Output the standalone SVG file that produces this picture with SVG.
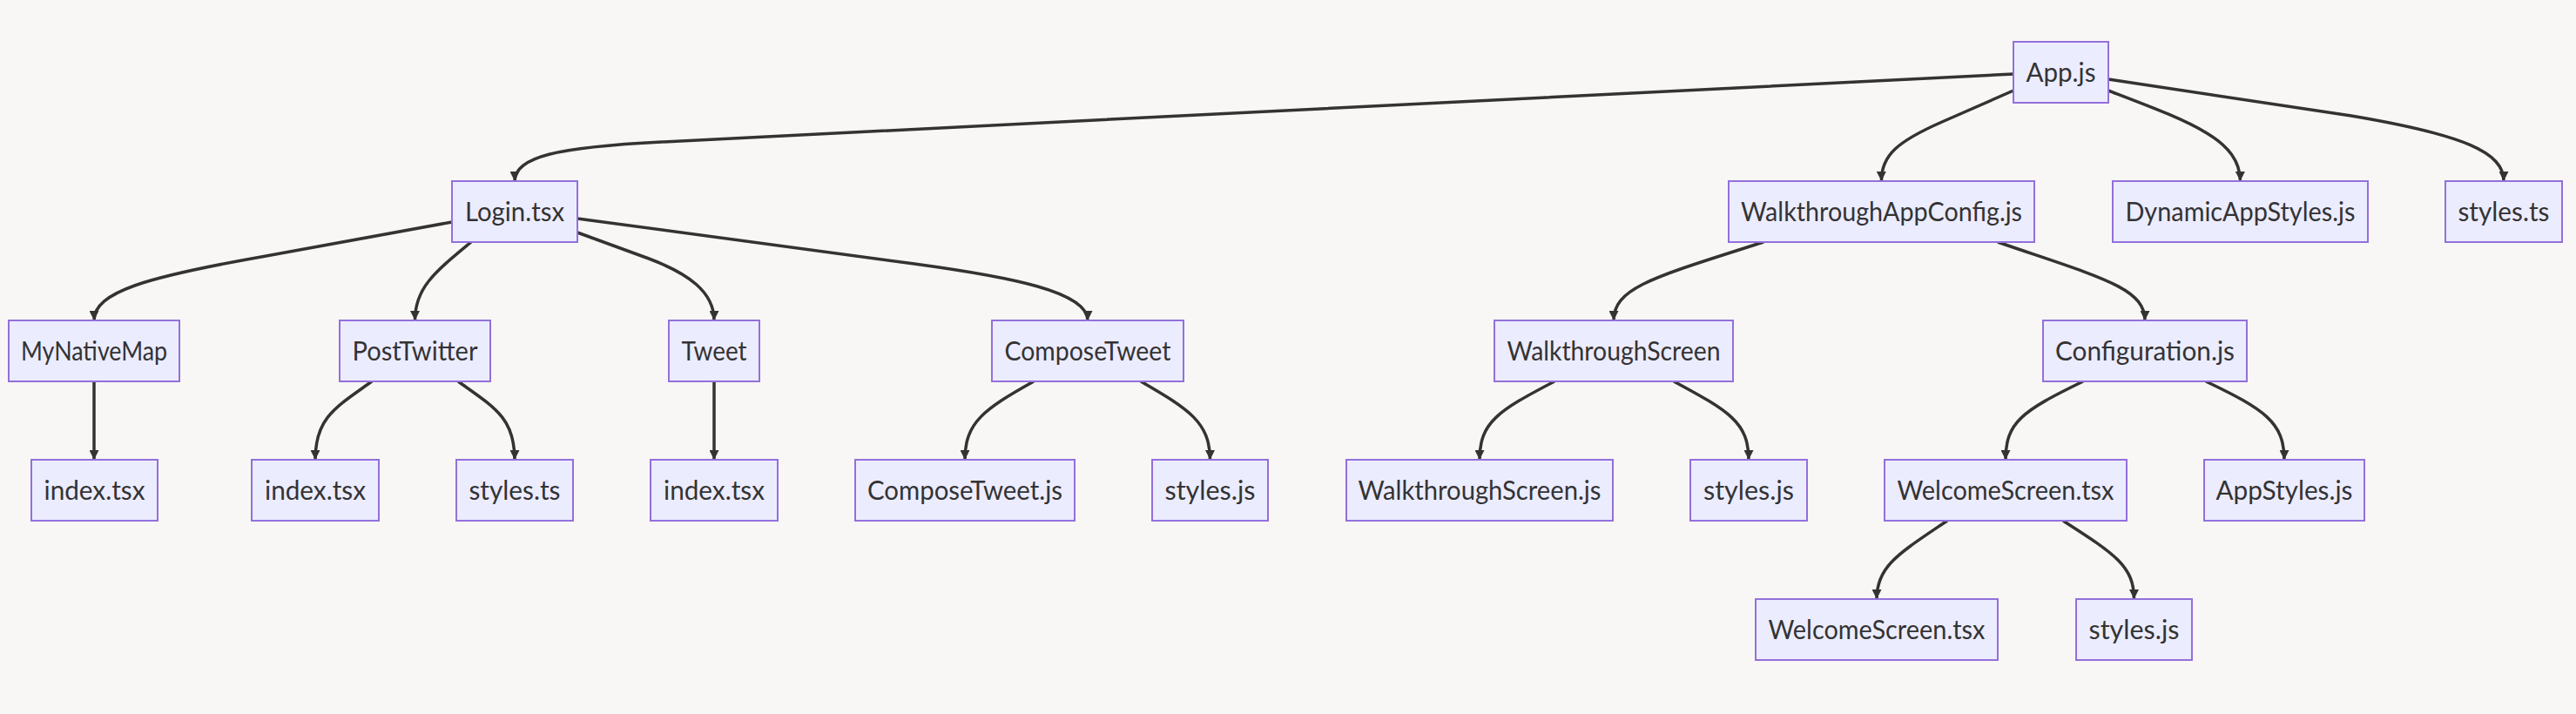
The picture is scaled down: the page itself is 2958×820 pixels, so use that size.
<svg xmlns="http://www.w3.org/2000/svg" width="2958" height="820" viewBox="0 0 2958 820">
<style>
.bg{fill:#f8f7f5}
.node rect{fill:#ECECFF;stroke:#9370DB;stroke-width:2}
.node text{font-family:Lato,"Liberation Sans",sans-serif;font-size:31px;fill:#333333;text-anchor:middle}
.edge{fill:none;stroke:#333333;stroke-width:3.5;stroke-linecap:butt}
</style>
<defs>
<marker id="arrow" viewBox="0 0 10 10" refX="10" refY="5" markerUnits="userSpaceOnUse" markerWidth="11" markerHeight="11" orient="auto">
<path d="M0,0 L10,5 L0,10 z" fill="#333333"/>
</marker>
</defs>
<rect class="bg" x="0" y="0" width="2958" height="820"/>
<g id="connectors">
<path class="edge" marker-end="url(#arrow)" d="M2312,85 L760,163 C640,169 591,180 591,208"/>
<path class="edge" marker-end="url(#arrow)" d="M2312,104 L2230,140 C2180,162 2160,178 2160.5,208"/>
<path class="edge" marker-end="url(#arrow)" d="M2421,104 C2515,140 2572,160 2572.5,208"/>
<path class="edge" marker-end="url(#arrow)" d="M2421,91 L2700,133 C2830,155 2875,175 2875,208"/>
<path class="edge" marker-end="url(#arrow)" d="M519,255 L300,295 C170,318 108,335 108,368"/>
<path class="edge" marker-end="url(#arrow)" d="M541,278 C500,312 476.5,330 476.5,368"/>
<path class="edge" marker-end="url(#arrow)" d="M663,267 L745,297 C790,314 820,335 820,368"/>
<path class="edge" marker-end="url(#arrow)" d="M663,251 L1050,303 C1160,318 1249,335 1249,368"/>
<path class="edge" marker-end="url(#arrow)" d="M108,438 L108,528"/>
<path class="edge" marker-end="url(#arrow)" d="M427,438 C385,468 362,480 362,528"/>
<path class="edge" marker-end="url(#arrow)" d="M526,438 C568,468 591,480 591,528"/>
<path class="edge" marker-end="url(#arrow)" d="M820,438 L820,528"/>
<path class="edge" marker-end="url(#arrow)" d="M1187,438 C1130,470 1108,485 1108,528"/>
<path class="edge" marker-end="url(#arrow)" d="M1310,438 C1365,470 1389.5,485 1389.5,528"/>
<path class="edge" marker-end="url(#arrow)" d="M2025,278 C1900,318 1853,330 1853,368"/>
<path class="edge" marker-end="url(#arrow)" d="M2294,278 C2410,318 2463,330 2463,368"/>
<path class="edge" marker-end="url(#arrow)" d="M1785,438 C1720,472 1699,485 1699,528"/>
<path class="edge" marker-end="url(#arrow)" d="M1922,438 C1985,472 2008,485 2008,528"/>
<path class="edge" marker-end="url(#arrow)" d="M2392,438 C2322,472 2303,485 2303,528"/>
<path class="edge" marker-end="url(#arrow)" d="M2533,438 C2600,470 2623,485 2623,528"/>
<path class="edge" marker-end="url(#arrow)" d="M2236,598 C2180,636 2155,650 2155,688"/>
<path class="edge" marker-end="url(#arrow)" d="M2369,598 C2428,636 2450.5,650 2450.5,688"/>
</g>
<g id="n-app" class="node"><rect x="2312" y="48" width="109" height="70"/><text x="2366.5" y="94" textLength="80" lengthAdjust="spacingAndGlyphs">App.js</text></g>
<g id="n-login" class="node"><rect x="519" y="208" width="144" height="70"/><text x="591" y="254" textLength="114" lengthAdjust="spacingAndGlyphs">Login.tsx</text></g>
<g id="n-wac" class="node"><rect x="1985" y="208" width="351" height="70"/><text x="2160.5" y="254" textLength="323" lengthAdjust="spacingAndGlyphs">WalkthroughAppConfig.js</text></g>
<g id="n-das" class="node"><rect x="2426" y="208" width="293" height="70"/><text x="2572.5" y="254" textLength="264" lengthAdjust="spacingAndGlyphs">DynamicAppStyles.js</text></g>
<g id="n-styles-app" class="node"><rect x="2808" y="208" width="134" height="70"/><text x="2875" y="254" textLength="105" lengthAdjust="spacingAndGlyphs">styles.ts</text></g>
<g id="n-mnm" class="node"><rect x="10" y="368" width="196" height="70"/><text x="108" y="414" textLength="168" lengthAdjust="spacingAndGlyphs">MyNativeMap</text></g>
<g id="n-pt" class="node"><rect x="390" y="368" width="173" height="70"/><text x="476.5" y="414" textLength="144" lengthAdjust="spacingAndGlyphs">PostTwitter</text></g>
<g id="n-tweet" class="node"><rect x="768" y="368" width="104" height="70"/><text x="820" y="414" textLength="75" lengthAdjust="spacingAndGlyphs">Tweet</text></g>
<g id="n-ct" class="node"><rect x="1139" y="368" width="220" height="70"/><text x="1249" y="414" textLength="191" lengthAdjust="spacingAndGlyphs">ComposeTweet</text></g>
<g id="n-ws" class="node"><rect x="1716" y="368" width="274" height="70"/><text x="1853" y="414" textLength="245" lengthAdjust="spacingAndGlyphs">WalkthroughScreen</text></g>
<g id="n-conf" class="node"><rect x="2346" y="368" width="234" height="70"/><text x="2463" y="414" textLength="206" lengthAdjust="spacingAndGlyphs">Configuration.js</text></g>
<g id="n-mnm-index" class="node"><rect x="36" y="528" width="145" height="70"/><text x="108.5" y="574" textLength="116" lengthAdjust="spacingAndGlyphs">index.tsx</text></g>
<g id="n-pt-index" class="node"><rect x="289" y="528" width="146" height="70"/><text x="362" y="574" textLength="116" lengthAdjust="spacingAndGlyphs">index.tsx</text></g>
<g id="n-pt-styles" class="node"><rect x="524" y="528" width="134" height="70"/><text x="591" y="574" textLength="105" lengthAdjust="spacingAndGlyphs">styles.ts</text></g>
<g id="n-tweet-index" class="node"><rect x="747" y="528" width="146" height="70"/><text x="820" y="574" textLength="116" lengthAdjust="spacingAndGlyphs">index.tsx</text></g>
<g id="n-ctjs" class="node"><rect x="982" y="528" width="252" height="70"/><text x="1108" y="574" textLength="224" lengthAdjust="spacingAndGlyphs">ComposeTweet.js</text></g>
<g id="n-ct-styles" class="node"><rect x="1323" y="528" width="133" height="70"/><text x="1389.5" y="574" textLength="104" lengthAdjust="spacingAndGlyphs">styles.js</text></g>
<g id="n-wsjs" class="node"><rect x="1546" y="528" width="306" height="70"/><text x="1699" y="574" textLength="279" lengthAdjust="spacingAndGlyphs">WalkthroughScreen.js</text></g>
<g id="n-ws-styles" class="node"><rect x="1941" y="528" width="134" height="70"/><text x="2008" y="574" textLength="104" lengthAdjust="spacingAndGlyphs">styles.js</text></g>
<g id="n-welcome" class="node"><rect x="2164" y="528" width="278" height="70"/><text x="2303" y="574" textLength="249" lengthAdjust="spacingAndGlyphs">WelcomeScreen.tsx</text></g>
<g id="n-appstyles" class="node"><rect x="2531" y="528" width="184" height="70"/><text x="2623" y="574" textLength="157" lengthAdjust="spacingAndGlyphs">AppStyles.js</text></g>
<g id="n-welcome2" class="node"><rect x="2016" y="688" width="278" height="70"/><text x="2155" y="734" textLength="249" lengthAdjust="spacingAndGlyphs">WelcomeScreen.tsx</text></g>
<g id="n-welcome-styles" class="node"><rect x="2384" y="688" width="133" height="70"/><text x="2450.5" y="734" textLength="104" lengthAdjust="spacingAndGlyphs">styles.js</text></g>
</svg>
